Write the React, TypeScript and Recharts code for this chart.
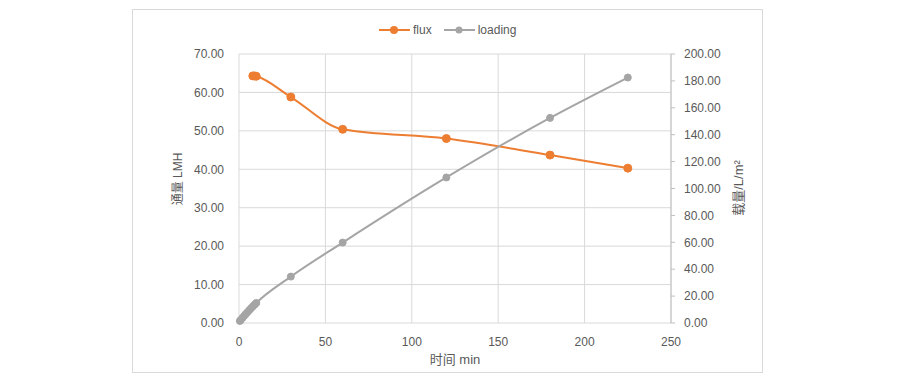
import { LineChart, Line, XAxis, YAxis, CartesianGrid } from 'recharts';

// sampling times (min)
const times = [0.5, 1, 2, 3, 4, 5, 6, 7, 8, 9, 10, 30, 60, 120, 180, 225];
// flux LMH (no reading before 8 min)
const flux = [null, null, null, null, null, null, null, null, 64.3, 64.3, 64.2, 58.8, 50.4, 48.0, 43.7, 40.3];
// loading L/m2
const loading = [1.5, 2.3, 3.8, 5.3, 6.8, 8.2, 9.6, 11.0, 12.3, 13.6, 14.9, 34.5, 59.8, 108.2, 152.5, 182.5];

const xTicks = [0, 50, 100, 150, 200, 250];
const leftTicks = [0, 10, 20, 30, 40, 50, 60, 70];
const rightTicks = [0, 20, 40, 60, 80, 100, 120, 140, 160, 180, 200];

const series = [
  { key: 'flux', name: 'flux', color: '#ED7D31', axis: 'left', r: 4 },
  { key: 'loading', name: 'loading', color: '#A5A5A5', axis: 'right', r: 3.5 },
];

const data = times.map((t, i) => ({ time: t, flux: flux[i], loading: loading[i] }));

const FONT = '"Liberation Sans", "Noto Sans CJK SC", sans-serif';
const TEXT = '#595959';

const tickStyle = { fill: TEXT, fontSize: 12, fontFamily: FONT };

function LegendBox() {
  return (
    <div
      style={{
        position: 'absolute',
        left: 379,
        top: 22,
        display: 'flex',
        alignItems: 'center',
        gap: 12,
        fontFamily: FONT,
        fontSize: 12,
        color: TEXT,
      }}
    >
      {series.map((s) => (
        <div key={s.key} style={{ display: 'flex', alignItems: 'center', gap: 3 }}>
          <svg width={31} height={10}>
            <line x1={0} y1={5} x2={31} y2={5} stroke={s.color} strokeWidth={2} />
            <circle cx={15} cy={5} r={s.r} fill={s.color} />
          </svg>
          <span style={{ lineHeight: '16px' }}>{s.name}</span>
        </div>
      ))}
    </div>
  );
}

export default function App() {
  return (
    <div
      style={{
        position: 'absolute',
        left: 0,
        top: 0,
        width: 906,
        height: 384,
        background: '#fff',
        fontFamily: FONT,
      }}
    >
      {/* chart frame */}
      <div
        style={{
          position: 'absolute',
          left: 132,
          top: 9,
          width: 629,
          height: 362,
          border: '1px solid #D9D9D9',
        }}
      />
      <div style={{ position: 'absolute', left: 0, top: 0 }}>
        <LineChart
          width={906}
          height={384}
          data={data}
          margin={{ top: 54, right: 175, bottom: 31, left: 179 }}
        >
          <CartesianGrid yAxisId="left" stroke="#D9D9D9" strokeWidth={1} />
          <XAxis
            dataKey="time"
            type="number"
            domain={[0, 250]}
            ticks={xTicks}
            height={30}
            axisLine={false}
            tickLine={false}
            tickSize={6}
            tickMargin={8}
            tick={tickStyle}
            label={() => (
              <text
                x={455}
                y={364}
                textAnchor="middle"
                fill={TEXT}
                fontSize={13}
                fontFamily={FONT}
              >
                时间 min
              </text>
            )}
          />
          <YAxis
            yAxisId="left"
            domain={[0, 70]}
            ticks={leftTicks}
            width={60}
            axisLine={false}
            tickLine={false}
            tickSize={6}
            tickMargin={9}
            tick={tickStyle}
            tickFormatter={(v: number) => v.toFixed(2)}
            label={() => (
              <text
                x={178}
                y={179}
                transform="rotate(-90 178 179)"
                textAnchor="middle"
                dominantBaseline="central"
                fill={TEXT}
                fontSize={12}
                fontFamily={FONT}
              >
                通量 LMH
              </text>
            )}
          />
          <YAxis
            yAxisId="right"
            orientation="right"
            domain={[0, 200]}
            ticks={rightTicks}
            width={60}
            axisLine={{ stroke: '#BFBFBF' }}
            tickLine={{ stroke: '#BFBFBF' }}
            tickSize={4}
            tickMargin={9}
            tick={tickStyle}
            tickFormatter={(v: number) => v.toFixed(2)}
            label={() => (
              <text
                x={738}
                y={188}
                transform="rotate(-90 738 188)"
                textAnchor="middle"
                dominantBaseline="central"
                fill={TEXT}
                fontSize={13}
                fontFamily={FONT}
              >
                载量/L/m²
              </text>
            )}
          />
          {series.map((s) => (
            <Line
              key={s.key}
              yAxisId={s.axis}
              dataKey={s.key}
              name={s.name}
              type="monotone"
              stroke={s.color}
              strokeWidth={2}
              dot={{ r: s.r, fill: s.color, stroke: s.color, strokeWidth: 1 }}
              activeDot={false}
              isAnimationActive={false}
            />
          ))}
        </LineChart>
      </div>
      <LegendBox />
    </div>
  );
}
